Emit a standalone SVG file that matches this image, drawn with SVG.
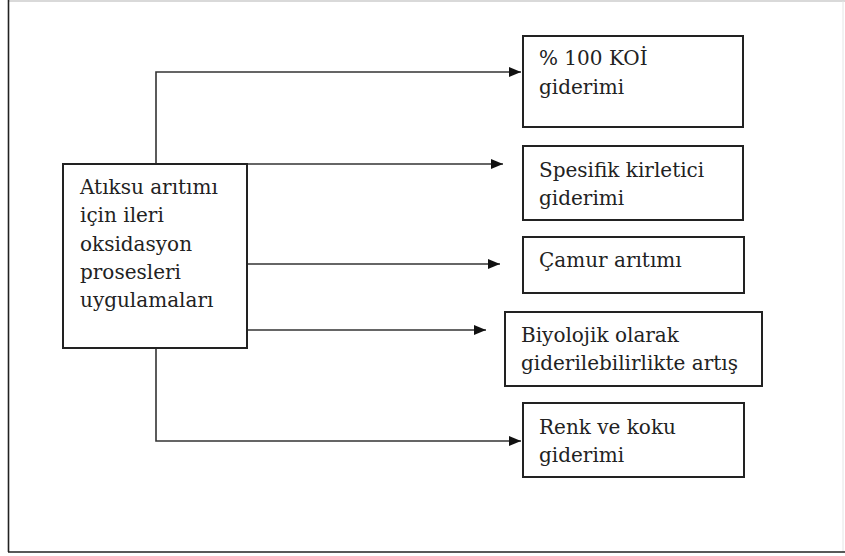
<svg xmlns="http://www.w3.org/2000/svg" width="845" height="556" viewBox="0 0 845 556">
<style>
.box{fill:#fff;stroke:#222;stroke-width:2}
.t{font-family:'DejaVu Serif',serif;font-size:20px;fill:#222}
.c{fill:none;stroke:#333;stroke-width:1.6}
</style>
<defs>
<marker id="ah" viewBox="0 0 12 10" refX="12" refY="5" markerWidth="12" markerHeight="10" markerUnits="userSpaceOnUse" orient="auto">
<path d="M0,0 L12,5 L0,10 Z" fill="#111"/>
</marker>
</defs>
<rect width="845" height="556" fill="#fff"/>
<g id="frame">
<line x1="8" y1="1" x2="845" y2="1" stroke="#ccc" stroke-width="1.5"/>
<line x1="843" y1="1" x2="843" y2="552" stroke="#e4e4e4" stroke-width="1"/>
<line x1="8.5" y1="0" x2="8.5" y2="552" stroke="#222" stroke-width="1.6"/>
<line x1="8" y1="552" x2="845" y2="552" stroke="#222" stroke-width="1.6"/>
</g>
<g id="connectors">
<polyline class="c" points="156,164 156,72 521,72" marker-end="url(#ah)"/>
<line class="c" x1="247" y1="164" x2="503" y2="164" marker-end="url(#ah)"/>
<line class="c" x1="247" y1="264" x2="500" y2="264" marker-end="url(#ah)"/>
<line class="c" x1="247" y1="330" x2="486" y2="330" marker-end="url(#ah)"/>
<polyline class="c" points="156,348 156,441 521,441" marker-end="url(#ah)"/>
</g>
<g id="main">
<rect class="box" x="63" y="164" width="184" height="184"/>
<text class="t" x="80" y="194">Atıksu arıtımı</text>
<text class="t" x="80" y="222">için ileri</text>
<text class="t" x="80" y="251">oksidasyon</text>
<text class="t" x="80" y="279">prosesleri</text>
<text class="t" x="80" y="307">uygulamaları</text>
</g>
<g id="koi">
<rect class="box" x="523" y="36" width="220" height="91"/>
<text class="t" x="539" y="65">% 100 KOİ</text>
<text class="t" x="539" y="94">giderimi</text>
</g>
<g id="spesifik">
<rect class="box" x="523" y="146" width="220" height="74"/>
<text class="t" x="539" y="177">Spesifik kirletici</text>
<text class="t" x="539" y="205">giderimi</text>
</g>
<g id="camur">
<rect class="box" x="523" y="237" width="221" height="56"/>
<text class="t" x="539" y="267">Çamur arıtımı</text>
</g>
<g id="biyolojik">
<rect class="box" x="505" y="312" width="257" height="74"/>
<text class="t" x="521" y="342">Biyolojik olarak</text>
<text class="t" x="521" y="370">giderilebilirlikte artış</text>
</g>
<g id="renk">
<rect class="box" x="523" y="403" width="221" height="74"/>
<text class="t" x="539" y="434">Renk ve koku</text>
<text class="t" x="539" y="462">giderimi</text>
</g>
</svg>
